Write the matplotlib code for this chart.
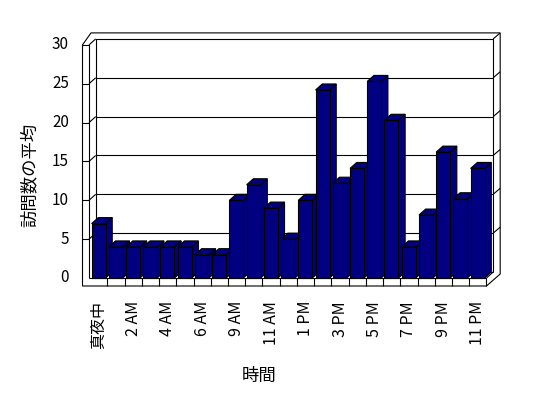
import matplotlib
matplotlib.use("Agg")
import matplotlib.pyplot as plt
from matplotlib.patches import Polygon

plt.rcParams['font.family'] = ['Noto Sans CJK JP', 'DejaVu Sans']

# data (7 AM has no bar)
hours = ['真夜中', '1 AM', '2 AM', '3 AM', '4 AM', '5 AM', '6 AM', '8 AM',
         '9 AM', '10 AM', '11 AM', '12 PM', '1 PM', '2 PM', '3 PM', '4 PM',
         '5 PM', '6 PM', '7 PM', '8 PM', '9 PM', '10 PM', '11 PM']
visits = [7, 4, 4, 4, 4, 4, 3, 3, 10, 12, 9, 5, 10, 24.2, 12.2, 14.1,
          25.3, 20.3, 4, 8.1, 16.2, 10.2, 14.1]
yticks = [0, 5, 10, 15, 20, 25, 30]
ymax = 30

# pixel -> data helpers (one category = 17.23 px, one visit = 7.77 px)
X0, PX = 90.2, 17.23
Y0, PY = 278.0, 7.77
def px2x(p):
    return (p - X0) / PX
def px2y(p):
    return (Y0 - p) / PY

n = len(visits)
DX, DY = 6.7 / PX, 6.0 / PY     # depth of the box
EX, EY = 7.0 / PX, 6.0 / PY     # thickness of back wall
XL_OUT, XL_IN = px2x(82.5), px2x(89)
XR = n
FB = px2y(286)
navy = '#000080'
lw = 0.8

fig = plt.figure(figsize=(5.48, 3.98), dpi=100)
ax = fig.add_axes([0, 0, 1, 1])
ax.set_xlim(px2x(0), px2x(548))
ax.set_ylim(px2y(398), px2y(0))
ax.axis('off')

def line(xs, ys, z=1):
    ax.plot(xs, ys, color='black', lw=lw, zorder=z, solid_capstyle='butt')

# outer silhouette of walls + floor
outline = [(XL_OUT, FB), (XR, FB), (XR + DX + EX, FB + DY + EY),
           (XR + DX + EX, ymax + DY + EY), (px2x(91), ymax + DY + EY),
           (XL_OUT, ymax)]
ax.add_patch(Polygon(outline, closed=True, facecolor='white',
                     edgecolor='black', lw=lw, zorder=0.5))

# left wall
line([XL_IN, XL_IN, XL_OUT], [0, ymax, ymax])
line([XL_IN, XL_IN + DX], [ymax, ymax + DY])
# back wall inner frame
line([XL_IN + DX, XL_IN + DX, XR + DX, XR + DX], [DY, ymax + DY, ymax + DY, DY])
line([XR + DX, XR + DX + EX], [ymax + DY, ymax + DY + EY])
# floor
line([XL_IN, XR, XR], [0, 0, FB])
line([XR, XR + DX], [0, DY])
line([XL_IN + DX, XR + DX], [DY, DY])
for i in range(1, n):
    line([i, i], [0, FB])

# gridlines
for v in yticks[1:-1]:
    line([XL_IN + DX, XR + DX], [v + DY, v + DY])
    line([XL_IN, XL_IN + DX], [v, v + DY])
    line([XL_OUT, XL_IN], [v, v])
    line([XR + DX, XR + DX + EX], [v + DY, v + DY + EY])

# bars: side and top faces, then fronts
x_left = [i + 0.08 for i in range(n)]
bw = 0.81
for i, v in enumerate(visits):
    x0 = x_left[i]
    x1 = x0 + bw
    side = [(x1, 0), (x1, v), (x1 + DX, v + DY), (x1 + DX, DY)]
    top = [(x0, v), (x1, v), (x1 + DX, v + DY), (x0 + DX, v + DY)]
    ax.add_patch(Polygon(side, closed=True, facecolor=navy, edgecolor='black',
                         lw=lw, zorder=2 + i * 0.01))
    ax.add_patch(Polygon(top, closed=True, facecolor=navy, edgecolor='black',
                         lw=lw, zorder=2 + i * 0.01))
ax.bar(x_left, visits, width=bw, align='edge', color=navy,
       edgecolor='black', linewidth=lw, zorder=3)

# tick labels
for v in yticks:
    ax.text(px2x(69), v, str(v), ha='right', va='center', fontsize=11)
for i in range(0, n, 2):
    ax.text(i + 0.5, px2y(301), hours[i], rotation=90, ha='center',
            va='top', fontsize=11.5)

ax.text(px2x(30), px2y(175), '訪問数の平均', rotation=90, ha='center',
        va='center', fontsize=12.5)
ax.text(px2x(259), px2y(376), '時間', ha='center', va='center', fontsize=12.5)

fig.savefig('out.png', dpi=100)
